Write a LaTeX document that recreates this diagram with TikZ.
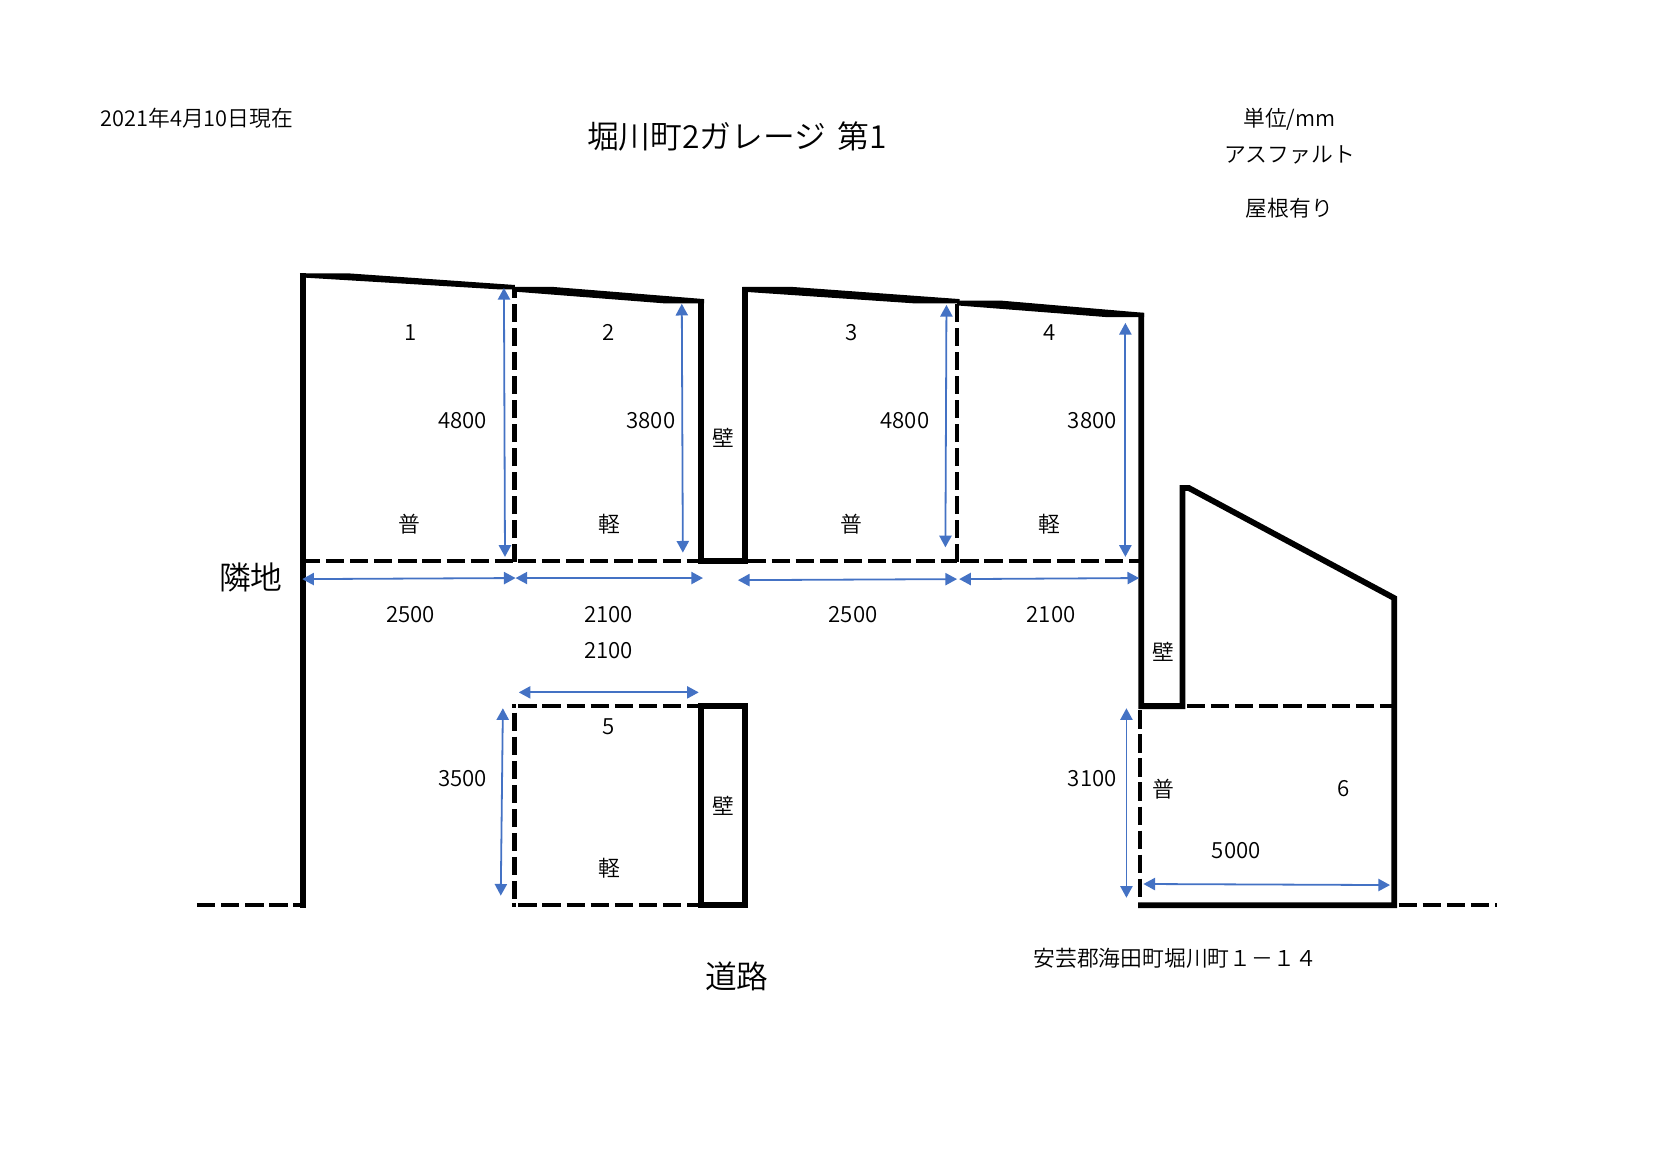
\documentclass[tikz,border=0pt]{standalone}
\usepackage{fontspec}
\setmainfont{Noto Sans CJK JP DemiLight}
\usetikzlibrary{arrows.meta}
\definecolor{dimblue}{HTML}{4472C4}
\tikzset{
  wall/.style={line width=5.5pt,line join=miter},
  roof/.style={fill=black,draw=none},
  open/.style={line width=3.6pt,dash pattern=on 17.3pt off 5.5pt},
  openv/.style={line width=4pt,dash pattern=on 17.3pt off 5.4pt},
  dim/.style={{Triangle[length=11pt,width=11.5pt]}-{Triangle[length=11pt,width=11.5pt]},line width=1.7pt,color=dimblue},
  txt/.style={inner sep=0pt,font=\fontsize{20.6}{24}\selectfont},
  num/.style={inner sep=0pt,xshift=.8pt,yshift=-.3pt,font=\fontsize{21}{24}\selectfont},
  big/.style={inner sep=0pt,font=\fontsize{30}{34}\selectfont}
}
\begin{document}
\begin{tikzpicture}[x=1pt,y=-1pt]
\useasboundingbox (0,0) rectangle (1568,1099.5);
\draw[open] (285,530) -- (486,530);
\draw[open] (489,530) -- (660,530);
\draw[openv] (486,531) -- (486,272);
\draw[open] (706,530) -- (904,530);
\draw[open] (907,530) -- (1076,530);
\draw[openv] (904,531) -- (904,284);
\draw[open] (1121,667) -- (1317,667);
\draw[openv] (1077,671) -- (1077,853);
\draw[open] (489.6,667) -- (660,667);
\draw[open] (483.6,667) -- (487.4,667);
\draw[openv] (486,673.2) -- (486,850);
\draw[open] (489.6,855) -- (660,855);
\draw[open] (483.6,855) -- (487.4,855);
\draw[open] (186,855) -- (286,855);
\draw[open] (1321,855) -- (1414,855);
\fill[roof] (283.3,258.2) -- (329,258.2) -- (486.4,269.2) -- (486.4,273.3) -- (470.7,273.3) -- (288.7,262.3) -- cycle;
\fill[roof] (486.4,271) -- (522,271) -- (665,282.5) -- (665,286.5) -- (627,286.5) -- (486.4,275.5) -- cycle;
\fill[roof] (701.3,271) -- (748,271) -- (906.5,282.5) -- (906.5,286.5) -- (863,286.5) -- (701.3,275.5) -- cycle;
\fill[roof] (904,284) -- (946,284) -- (1080.7,295.5) -- (1080.7,299.5) -- (1045,299.5) -- (904,288.5) -- cycle;
\draw[wall] (286,857.5) -- (286,258.2);
\draw[wall] (662.4,282.5) -- (662.4,530) -- (704,530) -- (704,271);
\draw[wall] (1078,295.5) -- (1078,667) -- (1117,667) -- (1117,461) -- (1123,461) -- (1317,565) -- (1317,855) -- (1075,855);
\draw[wall] (662,667) rectangle (704,855);
\draw[dim] (476,272) -- (477,526);
\draw[dim] (644,287) -- (645,522);
\draw[dim] (894,288) -- (893,517);
\draw[dim] (1063,305) -- (1063,526);
\draw[dim] (285.5,547) -- (487,546);
\draw[dim] (487,546) -- (664,546);
\draw[dim] (697,548) -- (904,547);
\draw[dim] (906,547) -- (1076,546);
\draw[dim] (490,654) -- (660,654);
\draw[dim] (475,669) -- (473,846);
\draw[dim] (1064,669) -- (1064,848);
\draw[dim] (1080,835) -- (1313,836);
\node[txt] (date) at (186,112) {2021年4月10日現在};
\node[big] (title) at (696,129) {堀川町2ガレージ\hspace{4pt} 第1};
\node[txt] (unit) at (1218,113) {単位/mm};
\node[txt] (asphalt) at (1218,146) {アスファルト};
\node[txt] (roofnote) at (1218,197) {屋根有り};
\node[num] (no1) at (387,314) {1};
\node[num] (no2) at (574,314) {2};
\node[num] (no3) at (804,314) {3};
\node[num] (no4) at (991,314) {4};
\node[num] (len1) at (436,397) {4800};
\node[num] (len2) at (614,397) {3800};
\node[num] (len3) at (854,397) {4800};
\node[num] (len4) at (1031,397) {3800};
\node[txt] (wallA) at (683,414) {壁};
\node[txt] (car1) at (387,495) {普};
\node[txt] (car2) at (576,495) {軽};
\node[txt] (car3) at (804,495) {普};
\node[txt] (car4) at (991,495) {軽};
\node[big] (neighbour) at (237,545) {隣地};
\node[num] (wid1) at (387,580) {2500};
\node[num] (wid2) at (574,580) {2100};
\node[num] (wid3) at (805,580) {2500};
\node[num] (wid4) at (992,580) {2100};
\node[num] (wid5) at (574,614) {2100};
\node[num] (no5) at (574,686) {5};
\node[num] (len5) at (436,735) {3500};
\node[txt] (wallB) at (683,761) {壁};
\node[txt] (car5) at (576,820) {軽};
\node[txt] (wallC) at (1099,616) {壁};
\node[num] (len6) at (1031,735) {3100};
\node[txt] (car6) at (1099,745) {普};
\node[num] (no6) at (1268,745) {6};
\node[num] (wid6) at (1167,803) {5000};
\node[big] (road) at (696,922) {道路};
\node[txt] (address) at (1110,905) {安芸郡海田町堀川町１－１４};
\end{tikzpicture}
\end{document}
